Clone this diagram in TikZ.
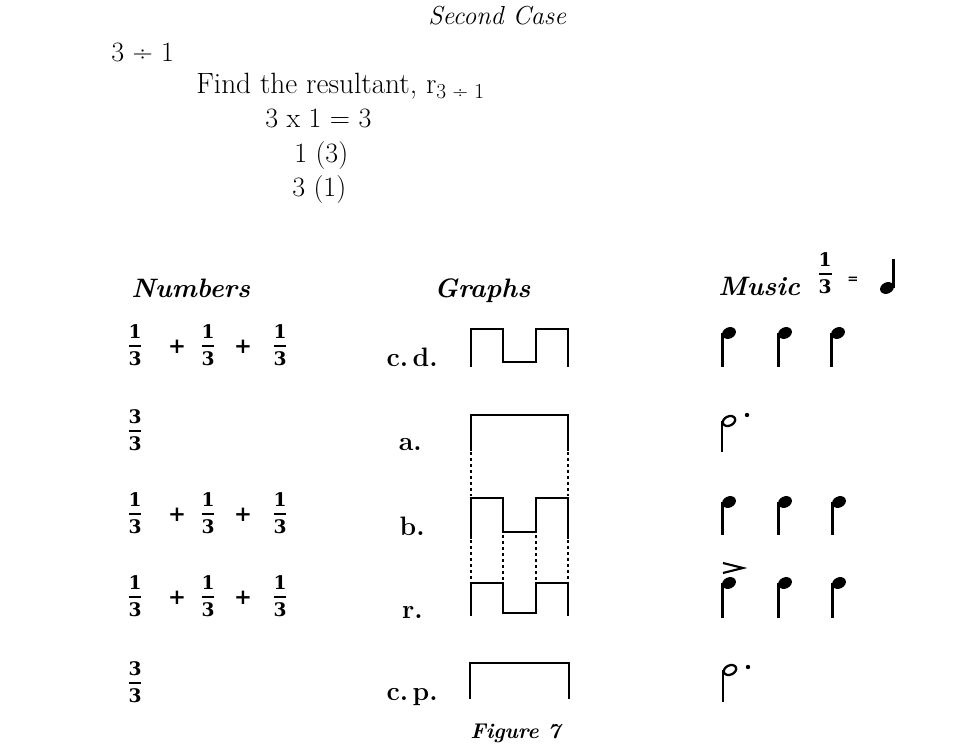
\documentclass[tikz,border=0pt]{standalone}
\usepackage{fontspec}
\newfontfamily\slab{DejaVu Serif}
\setlength{\arrayrulewidth}{0.8pt}
\newcommand\myfr[2]{\begin{tabular}{@{}c@{}}\bfseries #1\\[2pt]\hline\noalign{\vskip 3.5pt}\bfseries #2\end{tabular}}
\tikzset{
  txt/.style={inner sep=0pt, anchor=base west, font=\fontsize{21}{24}\selectfont},
  hdr/.style={inner sep=0pt, anchor=base west, font=\fontsize{20}{24}\selectfont\bfseries\itshape},
  lbl/.style={inner sep=0pt, anchor=base east, font=\fontsize{20}{24}\selectfont\bfseries},
  frc/.style={inner sep=0pt, font=\fontsize{14}{11.5}\slab},
  pls/.style={inner sep=0pt, font=\fontsize{16}{16}\slab\bfseries},
  wave/.style={line width=2.2pt, line join=miter, line cap=rect},
  dots/.style={line width=2pt, dash pattern=on 2.5pt off 2pt},
  stemline/.style={line width=1.9pt},
}
\newcommand\dnote[4]{% x y stemend rot
  \fill[rotate around={#4:(#1,#2)}] (#1,#2) ellipse (7.2 and 5.6);
  \draw[stemline] (#1-6.3,#2) -- (#1-6.3,#3);}
\newcommand\onote[3]{% open note, stem down
  \draw[line width=1.7pt, rotate around={25:(#1,#2)}] (#1,#2) ellipse (6.5 and 4.6);
  \draw[stemline] (#1-6.8,#2) -- (#1-6.8,#3);}
\begin{document}
\begin{tikzpicture}[x=0.75pt,y=-0.75pt]
\useasboundingbox (0,0) rectangle (975,752);
% top text
\node[inner sep=0pt, anchor=base west, font=\fontsize{19.5}{24}\selectfont\itshape] (title) at (428,25) {Second Case};
\node[txt] (t1) at (111,62) {3 ÷ 1};
\node[txt, font=\fontsize{22}{24}\selectfont] (t2) at (196,94) {Find the resultant, r\raisebox{-3.5pt}{\fontsize{16}{16}\selectfont 3 ÷ 1}};
\node[txt] (t3) at (265,128) {3 x 1 = 3};
\node[txt] (t4) at (294,163) {1 (3)};
\node[txt] (t5) at (292,197) {3 (1)};
% headers
\node[hdr] (hN) at (131,298) {Numbers};
\node[hdr] (hG) at (434,298) {Graphs};
\node[hdr] (hM) at (718,296) {Music};
\node[frc] (hf) at (825,275) {\myfr13};
\node[inner sep=0pt, font=\fontsize{10}{10}\slab\bfseries] (heq) at (853,280) {=};
% numbers column
\node[frc] (f1a) at (135,347) {\myfr13};
\node[pls] (p1a) at (177,347) {+};
\node[frc] (f1b) at (208,347) {\myfr13};
\node[pls] (p1b) at (243,347) {+};
\node[frc] (f1c) at (280,347) {\myfr13};
\node[frc] (f2) at (135,432) {\myfr33};
\node[frc] (f3a) at (135,515) {\myfr13};
\node[pls] (p3a) at (177,515) {+};
\node[frc] (f3b) at (208,515) {\myfr13};
\node[pls] (p3b) at (243,515) {+};
\node[frc] (f3c) at (280,515) {\myfr13};
\node[frc] (f4a) at (135,598) {\myfr13};
\node[pls] (p4a) at (177,598) {+};
\node[frc] (f4b) at (208,598) {\myfr13};
\node[pls] (p4b) at (243,598) {+};
\node[frc] (f4c) at (280,598) {\myfr13};
\node[frc] (f5) at (135,684) {\myfr33};
% labels
\node[lbl] (lcd) at (438,367) {c.\,d.};
\node[lbl] (la) at (422,450) {a.};
\node[lbl] (lb) at (425,535) {b.};
\node[lbl] (lr) at (423,618) {r.};
\node[lbl] (lcp) at (438,700) {c.\,p.};
% graphs
\draw[wave] (471,366) -- (471,329) -- (503,329) -- (503,362) -- (536,362) -- (536,329) -- (568,329) -- (568,366);
\draw[wave] (471,450) -- (471,415) -- (568,415) -- (568,450);
\draw[dots] (471,452) -- (471,496);
\draw[dots] (568,452) -- (568,496);
\draw[wave] (471,538) -- (471,498) -- (503,498) -- (503,532) -- (536,532) -- (536,498) -- (568,498) -- (568,538);
\draw[dots] (471,540) -- (471,581);
\draw[dots] (568,540) -- (568,581);
\draw[dots] (503,535) -- (503,581);
\draw[dots] (536,535) -- (536,581);
\draw[wave] (471,615) -- (471,583) -- (503,583) -- (503,613) -- (536,613) -- (536,583) -- (568,583) -- (568,615);
\draw[wave] (470,698) -- (470,663) -- (569,663) -- (569,698);
\node[inner sep=0pt, anchor=base west, font=\fontsize{16}{18}\selectfont\bfseries\itshape] (fig) at (470,738) {Figure 7};
% music
\fill[rotate around={25:(887,288)}] (887,288) ellipse (7.2 and 5.6);
\draw[stemline] (893.5,288) -- (893.5,259);
\dnote{729}{333}{367}{25}
\dnote{785}{333}{367}{25}
\dnote{838}{333}{367}{25}
\onote{729}{421}{452}
\fill (747,415) circle (2.2);
\dnote{729}{502}{535}{25}
\dnote{785}{502}{535}{25}
\dnote{839}{502}{535}{25}
\draw[line width=1.6pt, line join=miter] (723,563) -- (743,568) -- (723,573);
\dnote{729}{583}{618}{25}
\dnote{785}{583}{618}{25}
\dnote{839}{583}{618}{25}
\onote{730}{670}{702}
\fill (748,667) circle (2.2);
\end{tikzpicture}
\end{document}
